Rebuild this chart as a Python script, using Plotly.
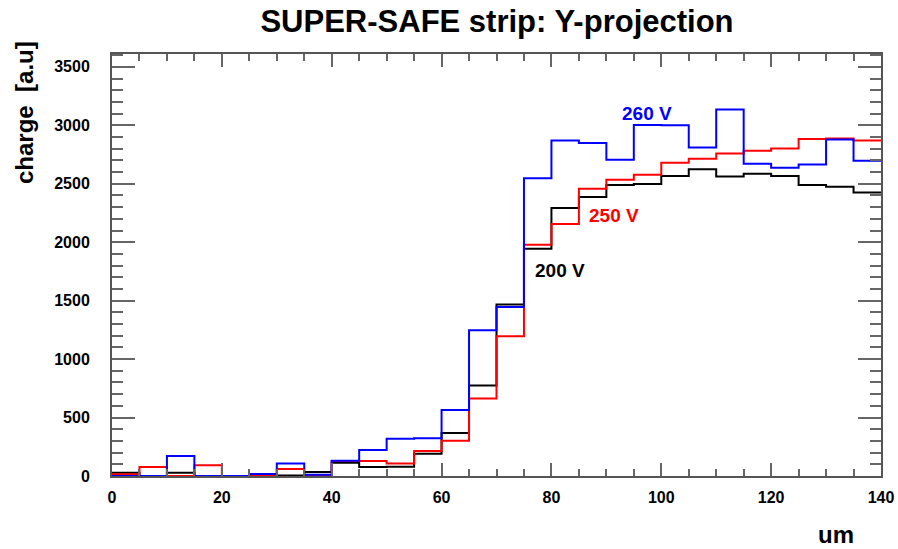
import plotly.graph_objects as go

# ---- data ----
bin_edges = list(range(0, 145, 5))  # um
charge_200V = [28, 0, 28, 0, 0, 0, 5, 34, 114, 77, 80, 191, 367, 775, 1467,
               1945, 2292, 2386, 2489, 2497, 2566, 2625, 2563, 2586, 2566, 2489, 2475, 2426]
charge_250V = [15, 77, 0, 91, 0, 0, 60, 0, 128, 128, 108, 214, 302, 664, 1196,
               1979, 2156, 2458, 2535, 2577, 2680, 2714, 2759, 2782, 2802, 2882, 2887, 2870]
charge_260V = [0, 0, 171, 0, 0, 17, 108, 10, 131, 222, 319, 322, 564, 1247, 1446,
               2548, 2870, 2848, 2705, 3002, 3001, 2811, 3135, 2671, 2637, 2665, 2879, 2697]

series = [
    ("200 V", charge_200V, "#000000", 81.6, 1760),
    ("250 V", charge_250V, "#ff0000", 91.4, 2230),
    ("260 V", charge_260V, "#0000ff", 97.4, 3098),
]

FONT = "Liberation Sans, Arial, Helvetica, sans-serif"

fig = go.Figure()
for name, vals, col, lx, ly in series:
    fig.add_trace(go.Scatter(
        x=bin_edges, y=list(vals) + [vals[-1]],
        mode="lines", line=dict(shape="hv", color=col, width=2),
        name=name, showlegend=False, hoverinfo="skip",
    ))
    fig.add_annotation(x=lx, y=ly, text=f"<b>{name}</b>", showarrow=False,
                       font=dict(family=FONT, size=19, color=col),
                       xanchor="center", yanchor="middle")

axis_common = dict(
    showgrid=False, zeroline=False, showline=True, mirror="allticks",
    linecolor="#555555", linewidth=2, ticks="inside", tickcolor="#666666",
    tickwidth=1.5, automargin=False,
    tickfont=dict(family=FONT, size=16, color="black", weight="bold"),
)

fig.update_xaxes(range=[0, 140], dtick=20, tick0=0, ticklen=13,
                 minor=dict(dtick=5, ticklen=7, ticks="inside", tickcolor="#666666", tickwidth=1.5),
                 ticklabelstandoff=6, **axis_common)
fig.update_yaxes(range=[0, 3610], dtick=500, tick0=0, ticklen=23,
                 minor=dict(dtick=100, ticklen=11, ticks="inside", tickcolor="#666666", tickwidth=1.5),
                 ticklabelstandoff=17, **axis_common)

fig.add_annotation(xref="paper", yref="paper", x=(25 - 112) / 769, y=(476 - 113) / 422,
                   text="<b>charge\u00a0\u00a0[a.u]</b>", textangle=-90, showarrow=False,
                   font=dict(family=FONT, size=24, color="black"),
                   xanchor="center", yanchor="middle")
fig.add_annotation(xref="paper", yref="paper", x=(836 - 112) / 769, y=(476 - 534) / 422,
                   text="<b>um</b>", showarrow=False,
                   font=dict(family=FONT, size=24, color="black"),
                   xanchor="center", yanchor="middle")

fig.update_layout(
    width=898, height=549,
    margin=dict(l=112, r=17, t=54, b=73, autoexpand=False),
    paper_bgcolor="white", plot_bgcolor="white",
    title=dict(text="<b>SUPER-SAFE strip: Y-projection</b>", x=(497) / 898, xanchor="center",
               y=1 - 21 / 549, yanchor="middle", yref="container",
               font=dict(family=FONT, size=31, color="black")),
)

fig.write_html("out.html")
